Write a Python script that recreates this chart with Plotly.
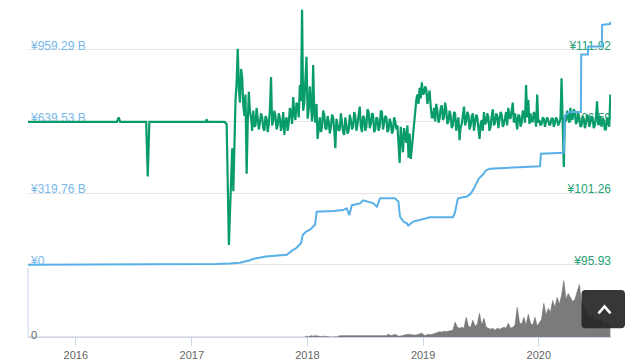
import pandas as pd
import plotly.graph_objects as go

# ---------------- data ----------------
# Price (right axis, ¥) - early flat era, explicit dates
price_dates_a = ['2015-08-03', '2016-05-10', '2016-05-15', '2016-05-20', '2016-08-10',
                 '2016-08-15', '2016-08-20', '2017-02-14', '2017-02-17', '2017-02-20',
                 '2017-04-14', '2017-04-21']
price_values_a = [106.56, 106.56, 106.9, 106.56, 106.56, 102.5, 106.56, 106.56, 106.75,
                  106.56, 106.56, 106.4]

# Price, every 3.5 days from 2017-04-28
price_start_b = '2017-04-28'
price_values_b = [
    97.4, 99.8, 103.1, 104.6, 101.4, 105.0, 108.2, 109.5, 112.0, 109.0,
    108.0, 110.5, 109.9, 107.8, 107.0, 108.6, 102.7, 106.5, 108.8, 107.3,
    106.9, 105.9, 107.4, 106.2, 106.3, 107.6, 107.0, 106.0, 106.5, 107.2,
    106.9, 106.1, 105.9, 107.0, 106.8, 105.8, 106.4, 107.5, 109.9, 106.3,
    106.6, 107.4, 107.0, 106.0, 106.3, 107.2, 106.8, 105.9, 106.4, 107.3,
    105.6, 106.6, 106.9, 105.9, 106.5, 107.6, 107.3, 106.4, 108.4, 107.1,
    106.7, 108.0, 107.8, 106.9, 109.3, 108.1, 114.9, 107.4, 108.0, 109.6,
    111.4, 106.8, 107.5, 109.2, 108.0, 106.6, 110.8, 107.2, 106.5, 107.9,
    105.3, 106.4, 106.9, 105.8, 106.2, 107.4, 107.1, 106.1, 106.0, 107.0,
    106.6, 105.7, 106.2, 107.1, 106.9, 106.0, 104.6, 106.8, 106.4, 105.9,
    106.0, 107.2, 106.5, 105.8, 105.6, 106.9, 106.3, 105.7, 105.9, 107.1,
    106.7, 106.0, 106.2, 107.3, 107.0, 105.9, 106.4, 106.9, 107.7, 106.2,
    105.8, 107.0, 106.9, 105.9, 106.2, 107.5, 107.3, 106.1, 106.4, 107.2,
    107.1, 105.8, 106.0, 106.9, 106.8, 105.9, 106.2, 107.4, 107.3, 106.0,
    106.4, 107.0, 106.9, 105.8, 106.0, 106.8, 106.5, 105.7, 105.9, 106.9,
    106.6, 106.0, 106.3, 105.2, 103.5, 106.2, 105.4, 104.3, 106.1, 105.6,
    105.0, 106.3, 103.9, 105.7, 103.8, 104.6, 105.5, 106.8, 107.6, 108.2,
    108.6, 107.9, 109.1, 108.3, 109.5, 108.6, 108.7, 109.2, 109.0, 107.9,
    108.4, 108.9, 107.7, 106.9, 106.9, 107.6, 106.6, 107.9, 107.4, 106.5,
    106.8, 107.6, 107.8, 106.7, 106.9, 108.0, 107.5, 106.4, 106.6, 107.4,
    107.0, 106.1, 106.3, 107.3, 107.2, 105.9, 106.5, 106.9, 105.2, 106.2,
    106.4, 107.1, 107.7, 106.3, 106.6, 107.3, 107.1, 106.0, 106.3, 107.0,
    107.2, 105.9, 106.4, 107.1, 106.9, 106.1, 105.3, 106.4, 106.7, 105.9,
    107.3, 106.4, 106.5, 107.2, 106.9, 105.9, 106.2, 107.0, 107.5, 106.3,
    106.5, 107.2, 107.0, 106.1, 106.7, 107.3, 107.1, 106.2, 106.4, 107.0,
    107.3, 106.3, 107.6, 106.9, 106.8, 107.4, 108.0, 106.5, 107.2, 106.6,
    106.0, 107.1, 107.0, 106.2, 106.5, 107.4, 107.2, 106.5, 109.3, 106.9,
    108.2, 106.4, 107.2, 106.6, 106.6, 107.3, 107.0, 106.2, 108.6, 106.5,
    106.7, 106.3, 106.4, 106.9, 106.8, 106.2, 106.5, 106.9, 106.7, 106.3,
    106.4, 106.8, 106.8, 106.2, 106.5, 106.9, 106.7, 106.3, 106.5, 106.8,
    109.8, 106.4, 103.2, 106.9, 106.6, 107.4, 107.0, 106.5, 107.6, 106.9,
    106.8, 107.5, 107.3, 106.4, 106.6, 107.2, 106.9, 106.2, 106.3, 107.0,
    106.8, 106.1, 106.4, 107.1, 106.9, 106.2, 106.5, 107.0, 106.8, 106.1,
    106.3, 106.9, 108.1, 106.4, 106.4, 107.0, 106.2, 106.8, 106.7, 106.0,
    106.0, 106.9, 106.5, 106.2, 108.6,
]

# Market cap (left axis, ¥ billions)
cap_dates = ['2015-08-03', '2016-06-01', '2017-01-01', '2017-03-15', '2017-05-01', '2017-06-02',
             '2017-07-03', '2017-07-13', '2017-08-23', '2017-09-15', '2017-10-28', '2017-11-12',
             '2017-11-27', '2017-12-12', '2017-12-17', '2017-12-28', '2018-01-09', '2018-01-25',
             '2018-01-30', '2018-03-23', '2018-04-23', '2018-05-05', '2018-05-13', '2018-05-21',
             '2018-06-16', '2018-06-26', '2018-07-28', '2018-08-08', '2018-08-18', '2018-10-04',
             '2018-10-15', '2018-10-20', '2018-11-02', '2018-11-10', '2018-11-15', '2018-12-01',
             '2018-12-22', '2019-01-23', '2019-04-05', '2019-04-11', '2019-04-21', '2019-05-04',
             '2019-05-19', '2019-05-29', '2019-06-07', '2019-06-17', '2019-06-26', '2019-07-09',
             '2019-07-18', '2019-07-31', '2019-08-31', '2019-11-03', '2020-01-05', '2020-01-08',
             '2020-03-20', '2020-03-23', '2020-04-08', '2020-05-13', '2020-05-14', '2020-06-04',
             '2020-06-05', '2020-07-18', '2020-07-19', '2020-08-13', '2020-08-16']
cap_values = [0.3, 0.9, 1.5, 3.0, 5.5, 8.9, 20, 26, 37, 39.8, 45, 62, 75, 97, 133, 148, 157, 179,
              237, 240, 244, 252, 222, 266, 274, 288, 274, 259, 297, 297, 282, 215, 190, 186,
              175, 193, 200, 212, 212, 230, 297, 301, 305, 314, 332, 360, 385, 403, 421, 429,
              431, 438, 440, 496, 500, 665, 682, 682, 939, 939, 974, 974, 1071, 1075, 1085]

# Navigator volume (weekly from 2017-04-28)
vol_start = '2017-04-28'
vol_values = [
    0, 0, 0, 0, 0, 0, 0, 0, 0, 0,
    0, 0, 0, 0, 0, 0, 0, 0, 0, 0,
    0, 0, 0, 0, 0, 0, 0, 0, 0, 0,
    0, 0, 0, 0, 0, 1, 0.5, 1.5, 1, 1.5,
    1, 1, 0.5, 1, 0.5, 0.5, 0.3, 0.3, 0.3, 0.5,
    1.5, 1.5, 2, 1.5, 2, 1.5, 1.5, 2, 1.5, 1.5,
    2, 1.5, 1.5, 2, 1.5, 1.5, 2, 1.5, 2, 1.5,
    2, 1.5, 3, 1.5, 2, 3, 1.5, 1, 1.5, 2,
    2.5, 3, 2.5, 2, 2, 2.5, 3, 4, 2, 2,
    3, 2.5, 3, 4, 5, 5.5, 5, 6, 5.5, 6,
    6, 7, 15, 10, 9, 10, 9, 20, 11, 10,
    17, 11, 13, 24, 12, 19, 10, 9, 8, 9,
    7, 9, 8, 9, 10, 9, 14, 9, 10, 12,
    30, 15, 13, 20, 12, 23, 14, 12, 20, 11,
    15, 18, 34, 22, 29, 25, 37, 30, 40, 33,
    42, 57, 38, 44, 40, 36, 38, 45, 53, 35,
    30, 25, 22, 18, 24, 15, 20, 14, 18, 12,
    16, 13, 15,
]

cap_ticks = [0, 319.76, 639.53, 959.29]
cap_tick_text = ['¥0', '¥319.76 B', '¥639.53 B', '¥959.29 B']
price_ticks = [95.93, 101.26, 106.59, 111.92]
price_tick_text = ['¥95.93', '¥101.26', '¥106.59', '¥111.92']
year_ticks = ['2016-01-01', '2017-01-01', '2018-01-01', '2019-01-01', '2020-01-01']
year_text = ['2016', '2017', '2018', '2019', '2020']

# ---------------- build ----------------
dates_b = pd.date_range(price_start_b, periods=len(price_values_b), freq='84h')
price_x = list(pd.to_datetime(price_dates_a)) + list(dates_b)
price_y = price_values_a + price_values_b
vol_dates = pd.date_range(vol_start, periods=len(vol_values), freq='7D')
vol_x = [pd.Timestamp('2015-08-03'), pd.Timestamp('2017-04-21')] + list(vol_dates)
vol_y = [0, 0] + vol_values

W, H = 640, 361
def px(x):
    return x / W
def py(y):
    return 1 - y / H

GREEN = '#079c6a'
BLUE = '#58b0e6'
FONT = 'Liberation Sans, Arial, sans-serif'

# main plot: value 0 sits at pixel row 267, domain extends a little lower
MAIN_BASE, MAIN_BOTTOM = 267, 276
CAP_PER_PX, PRICE_PER_PX = 4.427, 0.07379
PRICE_MIN = 95.93
ext = MAIN_BOTTOM - MAIN_BASE
# navigator: 0 at row 340, domain extends a little lower
NAV_BASE, NAV_BOTTOM, NAV_TOP = 340, 346, 270

fig = go.Figure()
fig.add_trace(go.Scatter(x=price_x, y=price_y, mode='lines', yaxis='y', xaxis='x',
                         line=dict(color=GREEN, width=2.2), name='Price'))
fig.add_trace(go.Scatter(x=cap_dates, y=cap_values, mode='lines', yaxis='y2', xaxis='x',
                         line=dict(color=BLUE, width=2), name='Market Cap'))
fig.add_trace(go.Scatter(x=vol_x, y=vol_y, mode='lines', xaxis='x2', yaxis='y3',
                         fill='tozeroy', fillcolor='#7b7b7b',
                         line=dict(color='#6f6f6f', width=0.6), name='Volume'))

xr = ['2015-08-03', '2020-08-16']
dom_x = [px(28), px(611)]
fig.update_layout(
    width=W, height=H, autosize=False,
    margin=dict(l=0, r=0, t=0, b=0),
    paper_bgcolor='white', plot_bgcolor='white',
    showlegend=False,
    font=dict(family=FONT),
    xaxis=dict(domain=dom_x, range=xr, type='date', showticklabels=False, showgrid=False,
               zeroline=False, showline=False, ticks='', anchor='y'),
    yaxis=dict(domain=[py(MAIN_BOTTOM), 1],
               range=[PRICE_MIN - ext * PRICE_PER_PX, PRICE_MIN + MAIN_BASE * PRICE_PER_PX],
               side='right',
               tickvals=price_ticks, ticktext=price_tick_text, ticklabelposition='inside',
               ticklabelshift=-4, ticklabelstandoff=-3,
               tickfont=dict(color='#26a275', size=12, family=FONT),
               showgrid=True, gridcolor='#e6e6e6', gridwidth=1, zeroline=False,
               showline=False, ticks='', layer='below traces', anchor='x'),
    yaxis2=dict(range=[-ext * CAP_PER_PX, MAIN_BASE * CAP_PER_PX], overlaying='y', side='left',
                tickvals=cap_ticks, ticktext=cap_tick_text, ticklabelposition='inside',
                ticklabelshift=-4, tickfont=dict(color='#78b8ea', size=12, family=FONT),
                showgrid=False, zeroline=False, showline=False, ticks='',
                layer='below traces', anchor='x'),
    xaxis2=dict(domain=dom_x, range=xr, type='date', anchor='free', position=py(NAV_BASE),
                tickvals=year_ticks, ticktext=year_text, ticks='outside', ticklen=8,
                tickcolor='#ccd6eb', tickwidth=1, showline=True, linecolor='#ccd6eb',
                linewidth=1, showgrid=False, zeroline=False,
                tickfont=dict(color='#666666', size=11, family=FONT)),
    yaxis3=dict(domain=[py(NAV_BOTTOM), py(NAV_TOP)],
                range=[-(NAV_BOTTOM - NAV_BASE), NAV_BASE - NAV_TOP],
                anchor='x2', side='left',
                tickvals=[0], ticktext=['0'], ticklabelposition='inside', ticklabelshift=-2,
                ticks='', showline=False, showgrid=False,
                zeroline=False, tickfont=dict(color='#666666', size=11, family=FONT)),
)

# navigator left edge line
fig.add_shape(type='line', xref='paper', yref='paper', x0=px(28), x1=px(28),
              y0=py(NAV_BASE), y1=py(NAV_TOP), line=dict(color='#ccd6eb', width=1))

# scroll-to-top button overlay
x0, x1, y0, y1, r = 581.5, 625, 292.5, 331, 4
rr = (f"M {px(x0 + r)},{py(y0)} L {px(x1 - r)},{py(y0)} Q {px(x1)},{py(y0)} {px(x1)},{py(y0 + r)} "
      f"L {px(x1)},{py(y1 - r)} Q {px(x1)},{py(y1)} {px(x1 - r)},{py(y1)} "
      f"L {px(x0 + r)},{py(y1)} Q {px(x0)},{py(y1)} {px(x0)},{py(y1 - r)} "
      f"L {px(x0)},{py(y0 + r)} Q {px(x0)},{py(y0)} {px(x0 + r)},{py(y0)} Z")
fig.add_shape(type='path', path=rr, xref='paper', yref='paper',
              fillcolor='rgba(38,38,38,0.92)', line=dict(width=0), layer='above')
chev = f"M {px(598.5)},{py(316)} L {px(604.5)},{py(309)} L {px(610.5)},{py(316)}"
fig.add_shape(type='path', path=chev, xref='paper', yref='paper',
              line=dict(color='white', width=2.6), layer='above')

fig.write_html('out.html', config={'displayModeBar': False},
               post_script="document.body.style.margin='0';document.body.style.overflow='hidden';")
